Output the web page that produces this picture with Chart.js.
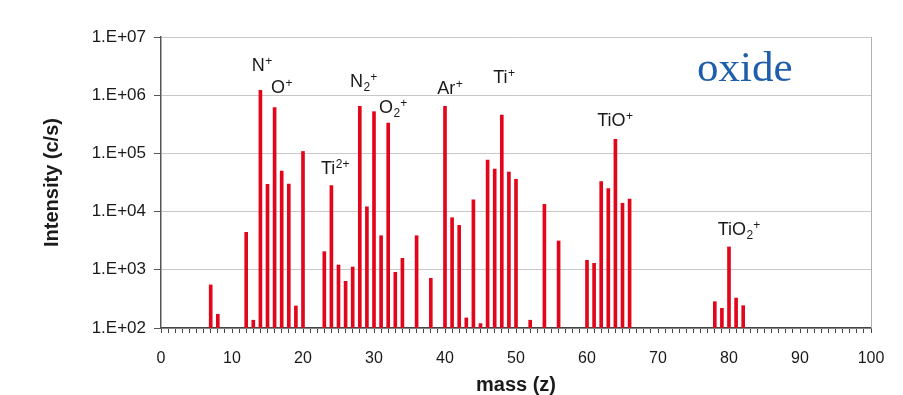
<!DOCTYPE html>
<html>
<head>
<meta charset="utf-8">
<script src="https://cdn.jsdelivr.net/npm/chart.js@4"></script>
<style>
  html, body { margin: 0; padding: 0; background: #ffffff; }
  #wrap { width: 903px; height: 395px; }
</style>
</head>
<body>
<div id="wrap"><canvas id="c" width="903" height="395"></canvas></div>
<script>
// ---- data ----
const masses = [7, 8, 12, 13, 14, 15, 16, 17, 18, 19, 20,
  23, 24, 25, 26, 27, 28, 29, 30, 31, 32, 33, 34, 36, 38,
  40, 41, 42, 43, 44, 45, 46, 47, 48, 49, 50, 52, 54, 56,
  60, 61, 62, 63, 64, 65, 66, 78, 79, 80, 81, 82];
const intensities = [550, 172, 4400, 136, 1210000, 29400, 610000, 49900, 29800, 239, 108000,
  2050, 27900, 1210, 634, 1117, 644000, 12100, 521000, 3850, 333000, 906, 1575, 3850, 714,
  644000, 7850, 5800, 149, 16000, 119, 77000, 54000, 457000, 47900, 35900, 136, 13300, 3130,
  1455, 1292, 32700, 24800, 175000, 13900, 16400, 283, 218, 2470, 327, 242];

const xTickValues = [0, 10, 20, 30, 40, 50, 60, 70, 80, 90, 100];
const yTickValues = [1e2, 1e3, 1e4, 1e5, 1e6, 1e7];
const yTickLabels = ['1.E+02', '1.E+03', '1.E+04', '1.E+05', '1.E+06', '1.E+07'];

// peak annotations (anchored at left edge / baseline, in data units)
const labelBase = ['N', 'O', 'Ti', 'N', 'O', 'Ar', 'Ti', 'TiO', 'TiO'];
const labelSub  = ['', '', '', '2', '2', '', '', '', '2'];
const labelSup  = ['+', '+', '2+', '+', '+', '+', '+', '+', '+'];
const labelMass = [12.77, 15.49, 22.54, 26.62, 30.70, 38.92, 46.80, 61.45, 78.41];
const labelIntensity = [2.64e6, 1.08e6, 44300, 1.40e6, 5.0e5, 1.05e6, 1.60e6, 2.99e5, 3960];

const noteText = 'oxide';
const noteMass = 75.5;
const noteIntensity = 1.75e6;

// ---- plugins ----
const frame = {
  id: 'frame',
  beforeDatasetsDraw(chart) {
    const {ctx, chartArea: a} = chart;
    ctx.save();
    ctx.strokeStyle = '#b0b0b0';
    ctx.lineWidth = 1;
    ctx.beginPath();
    ctx.moveTo(a.right + 0.5, a.top);
    ctx.lineTo(a.right + 0.5, a.bottom);
    ctx.stroke();
    ctx.restore();
  }
};

const peakLabels = {
  id: 'peakLabels',
  afterDatasetsDraw(chart) {
    const {ctx, scales: {x, y}} = chart;
    ctx.save();
    ctx.fillStyle = '#1a1a1a';
    ctx.textBaseline = 'alphabetic';
    ctx.textAlign = 'left';
    for (let i = 0; i < labelBase.length; i++) {
      let px = x.getPixelForValue(labelMass[i]);
      const py = y.getPixelForValue(labelIntensity[i]);
      ctx.font = '18px "Liberation Sans", Arial, sans-serif';
      ctx.fillText(labelBase[i], px, py);
      px += ctx.measureText(labelBase[i]).width + 0.5;
      ctx.font = '12px "Liberation Sans", Arial, sans-serif';
      if (labelSub[i]) {
        ctx.fillText(labelSub[i], px, py + 4);
        px += ctx.measureText(labelSub[i]).width;
      }
      if (labelSup[i]) {
        ctx.fillText(labelSup[i], px, py - 6);
      }
    }
    ctx.font = '43px "Liberation Serif", "Times New Roman", serif';
    ctx.fillStyle = '#1f5eab';
    ctx.fillText(noteText, x.getPixelForValue(noteMass), y.getPixelForValue(noteIntensity));
    ctx.restore();
  }
};

new Chart(document.getElementById('c'), {
  type: 'bar',
  data: {
    datasets: [{
      data: masses.map((m, i) => ({x: m, y: intensities[i]})),
      base: 100,
      backgroundColor: '#e3061b',
      borderWidth: 0,
      barThickness: 3
    }]
  },
  options: {
    responsive: false,
    animation: false,
    devicePixelRatio: 1,
    layout: { padding: { left: 0, right: 32, top: 37, bottom: 0 } },
    plugins: { legend: { display: false }, tooltip: { enabled: false } },
    scales: {
      x: {
        type: 'linear',
        offset: false,
        min: 0, max: 100,
        afterBuildTicks(scale) {
          const t = [];
          for (let v = 0; v <= 100; v++) t.push({value: v});
          scale.ticks = t;
        },
        afterFit(scale) { scale.height = 67; },
        ticks: {
          autoSkip: false, maxRotation: 0, minRotation: 0,
          callback: (v) => xTickValues.includes(v) ? String(v) : '',
          font: { family: '"Liberation Sans", Arial, sans-serif', size: 16 },
          color: '#1a1a1a',
          padding: 16
        },
        grid: {
          offset: false,
          drawOnChartArea: false, drawTicks: true, tickLength: 5,
          color: '#444', lineWidth: 1
        },
        border: { display: true, color: '#444', width: 1.5 },
        title: {
          display: true, text: 'mass (z)', color: '#1a1a1a',
          font: { family: '"Liberation Sans", Arial, sans-serif', size: 20, weight: 'bold', lineHeight: 1 },
          padding: { top: 0, bottom: 0 }
        }
      },
      y: {
        type: 'logarithmic',
        min: 100, max: 1e7,
        afterBuildTicks(scale) {
          scale.ticks = yTickValues.map(v => ({value: v}));
        },
        afterFit(scale) { scale.width = 161; },
        ticks: {
          callback: (v) => { const k = yTickValues.indexOf(v); return k >= 0 ? yTickLabels[k] : ''; },
          font: { family: '"Liberation Sans", Arial, sans-serif', size: 17 },
          color: '#1a1a1a',
          padding: 8
        },
        grid: {
          color: '#c8c8c8', lineWidth: 1,
          drawTicks: true, tickLength: 7, tickColor: '#555'
        },
        border: { display: true, color: '#555', width: 1.5 },
        title: {
          display: true, text: 'Intensity (c/s)', color: '#1a1a1a',
          font: { family: '"Liberation Sans", Arial, sans-serif', size: 20, weight: 'bold', lineHeight: 1 },
          padding: { top: 42, bottom: 0 }
        }
      }
    }
  },
  plugins: [frame, peakLabels]
});
</script>
</body>
</html>
